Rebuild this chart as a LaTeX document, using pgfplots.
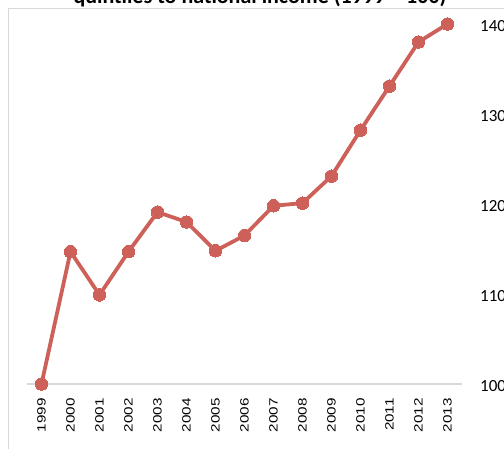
\documentclass[border=0pt]{standalone}
\usepackage{fontspec}
\usepackage{pgfplots}
\pgfplotsset{compat=1.18}
\newfontfamily\carlito{Carlito}
\newfontfamily\arialf[FakeStretch=1.27]{Liberation Sans}
\definecolor{lineRed}{RGB}{205,97,89}
\definecolor{borderGray}{RGB}{217,217,217}
\begin{document}
\begin{tikzpicture}
\useasboundingbox (0,0) rectangle (504bp,449bp);
\draw[borderGray, line width=1bp] (8bp,-20bp) -- (8bp,440bp) -- (530bp,440bp);
\node[font=\carlito\bfseries\fontsize{22bp}{26bp}\selectfont, anchor=base] at (260bp,445bp) {quintiles to national income (1999 = 100)};
\begin{axis}[
  at={(27bp,65bp)}, anchor=south west,
  scale only axis, width=435bp, height=360bp,
  xmin=-0.5, xmax=14.5, ymin=100, ymax=140,
  axis x line*=bottom, axis y line*=right,
  x axis line style={borderGray, line width=1.2bp, -},
  y axis line style={draw=none},
  major tick length=0pt,
  xtick={0,...,14},
  xticklabels={1999,2000,2001,2002,2003,2004,2005,2006,2007,2008,2009,2010,2011,2012,2013},
  xticklabel style={font=\arialf\fontsize{12bp}{14bp}\selectfont, rotate=90, anchor=east, inner sep=0pt},
  xticklabel shift=14bp,
  ytick={100,110,120,130,140},
  yticklabel style={font=\carlito\fontsize{17bp}{20bp}\selectfont, anchor=west, inner sep=0pt, yshift=-2.5bp},
  yticklabel shift=18bp,
  /pgf/number format/assume math mode=true,
  clip=false,
]
\addplot[color=lineRed, line width=3.8bp, mark=*, mark size=6.3bp, mark options={fill=lineRed, draw=lineRed, line width=0pt}] coordinates {
(0,100.0) (1,114.7) (2,109.9) (3,114.7) (4,119.1) (5,118.0) (6,114.8) (7,116.5) (8,119.8) (9,120.1) (10,123.1) (11,128.2) (12,133.1) (13,138.0) (14,140.0)
};
\end{axis}
\end{tikzpicture}
\end{document}
